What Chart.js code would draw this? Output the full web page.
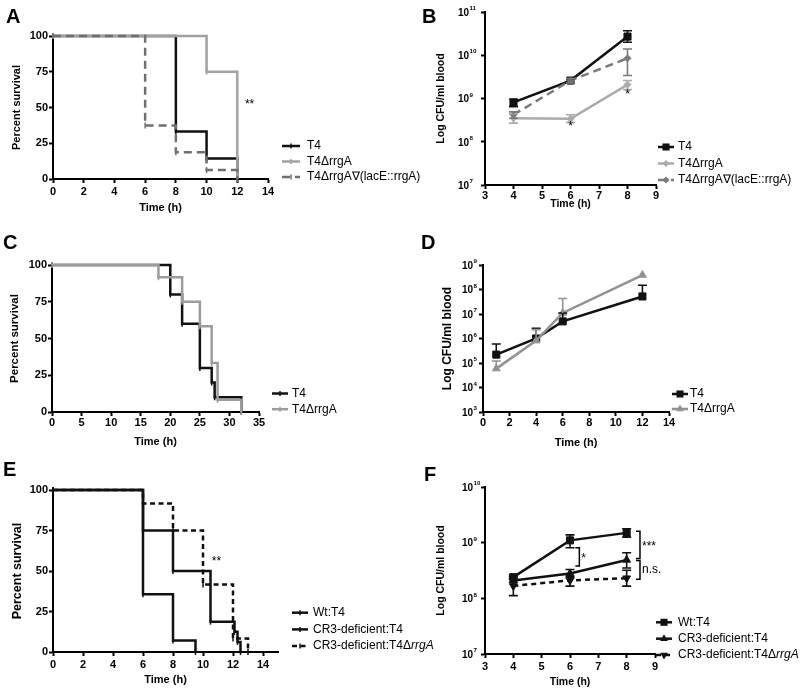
<!DOCTYPE html>
<html>
<head>
<meta charset="utf-8">
<script src="https://cdn.jsdelivr.net/npm/chart.js@4/dist/chart.umd.min.js"></script>
<style>
  body { margin: 0; background: #fff; width: 800px; height: 692px; position: relative; overflow: hidden; }
  canvas { position: absolute; }
  .tag { position: absolute; font: bold 20px "Liberation Sans", Arial, sans-serif; line-height: 20px; color: #000; }
</style>
</head>
<body>
<canvas id="pA" width="430" height="230" style="left:0;top:0"></canvas>
<canvas id="pB" width="400" height="230" style="left:400px;top:0"></canvas>
<canvas id="pC" width="400" height="230" style="left:0;top:230px"></canvas>
<canvas id="pD" width="400" height="230" style="left:400px;top:230px"></canvas>
<canvas id="pE" width="460" height="232" style="left:0;top:460px"></canvas>
<canvas id="pF" width="400" height="232" style="left:400px;top:460px"></canvas>
<div class="tag" style="left:6px;top:6px">A</div>
<div class="tag" style="left:422px;top:6px">B</div>
<div class="tag" style="left:3px;top:232px">C</div>
<div class="tag" style="left:421px;top:232px">D</div>
<div class="tag" style="left:3px;top:459px">E</div>
<div class="tag" style="left:424px;top:464px">F</div>
<script>
const FONT = '"Liberation Sans", Arial, sans-serif';

// A — survival (h), Kaplan-Meier steps
const A_T4_T = [0, 8, 10, 12];
const A_T4_S = [100, 33.3, 14.3, 0];
const A_RRGA_T = [0, 10, 12];
const A_RRGA_S = [100, 75, 0];
const A_COMP_T = [0, 6, 8, 10, 12];
const A_COMP_S = [100, 37.5, 18.75, 6.25, 0];
const A_LABELS = ['T4', 'T4ΔrrgA', 'T4ΔrrgA∇(lacE::rrgA)'];

// B — CFU/ml blood
const B_TIME = [4, 6, 8];
const B_T4 = [8.1e8, 2.6e9, 2.7e10];
const B_T4_LO = [6.5e8, 2.3e9, 2.0e10];
const B_T4_HI = [9.6e8, 2.9e9, 3.7e10];
const B_RRGA = [3.5e8, 3.4e8, 2.1e9];
const B_RRGA_LO = [2.7e8, 2.8e8, 1.6e9];
const B_RRGA_HI = [4.4e8, 4.2e8, 2.6e9];
const B_COMP = [4.2e8, 2.6e9, 8.5e9];
const B_COMP_LO = [3.5e8, 2.3e9, 3.4e9];
const B_COMP_HI = [4.9e8, 2.9e9, 1.4e10];
const B_TICKS = [1e7, 1e8, 1e9, 1e10, 1e11];

// C — survival
const C_T4_T = [0, 20, 22, 25, 27, 27.5, 32];
const C_T4_S = [100, 80, 60, 30, 20, 10, 0];
const C_RRGA_T = [0, 18, 22, 25, 27, 28, 32];
const C_RRGA_S = [100, 91.7, 75, 58.3, 33.3, 8.3, 0];
const C_LABELS = ['T4', 'T4ΔrrgA'];

// D — CFU/ml blood (upper error only)
const D_TIME = [1, 4, 6, 12];
const D_T4 = [2.2e5, 1.0e6, 5.0e6, 5.2e7];
const D_T4_HI = [6.0e5, 2.6e6, 1.1e7, 1.5e8];
const D_RRGA = [5.9e4, 8.2e5, 1.1e7, 3.9e8];
const D_RRGA_HI = [1.2e5, 2.3e6, 4.3e7, null];
const D_TICKS = [1e3, 1e4, 1e5, 1e6, 1e7, 1e8, 1e9];

// E — survival
const E_WT_T = [0, 6, 8, 9.5];
const E_WT_S = [100, 35.7, 7.1, 0];
const E_CR3_T = [0, 6, 8, 10.5, 12.1, 12.3, 12.5];
const E_CR3_S = [100, 75, 50, 18.75, 12.5, 6.25, 0];
const E_CR3R_T = [0, 6, 8, 10, 12, 13];
const E_CR3R_S = [100, 91.7, 75, 41.7, 8.3, 0];

// F — CFU/ml blood
const F_TIME = [4, 6, 8];
const F_WT = [2.4e8, 1.1e9, 1.5e9];
const F_WT_LO = [2.2e8, 8.1e8, 1.26e9];
const F_WT_HI = [2.65e8, 1.38e9, 1.78e9];
const F_CR3 = [2.1e8, 2.8e8, 4.9e8];
const F_CR3_LO = [1.95e8, 2.35e8, 3.5e8];
const F_CR3_HI = [2.3e8, 3.3e8, 6.6e8];
const F_CR3R = [1.67e8, 2.1e8, 2.3e8];
const F_CR3R_LO = [1.12e8, 1.66e8, 1.66e8];
const F_CR3R_HI = [2.45e8, 2.5e8, 3.2e8];
const F_TICKS = [1e7, 1e8, 1e9, 1e10];
const F_BRACKETS = [
  { x: 6.33, y1: 8.1e8, y2: 3.8e8, text: '*' },
  { x: 8.47, y1: 1.6e9, y2: 5.2e8, text: '***' },
  { x: 8.47, y1: 4.8e8, y2: 2.2e8, text: 'n.s.' },
];

const pts = (xs, ys) => xs.map((x, i) => ({ x, y: ys[i] }));

function km(label, xs, ys, color, dash, order, italic) {
  return {
    label, labelItalic: italic, data: pts(xs, ys), order,
    borderColor: color, borderWidth: 2.5, borderDash: dash || [],
    stepped: 'before', fill: false, clip: false,
    pointStyle: 'line', pointRotation: 90, pointRadius: 3,
    pointBorderWidth: 1.5, pointBorderColor: color, pointHoverRadius: 3,
  };
}

function cfu(label, xs, ys, lo, hi, color, style, r, dash, order, rot, italic) {
  return {
    label, labelItalic: italic, data: pts(xs, ys), lo, hi, order,
    borderColor: color, backgroundColor: color, borderWidth: 2.5, borderDash: dash || [],
    fill: false, clip: false,
    pointStyle: style, pointRadius: r, pointRotation: rot || 0, pointHoverRadius: r,
    pointBackgroundColor: color, pointBorderColor: color, pointBorderWidth: 1,
  };
}

function marker(ctx, style, x, y, r, color, rot) {
  ctx.fillStyle = color; ctx.strokeStyle = color;
  ctx.beginPath();
  if (style === 'rect') {
    const s = r * Math.SQRT1_2;
    ctx.rect(x - s, y - s, 2 * s, 2 * s); ctx.fill();
  } else if (style === 'rectRot') {
    ctx.moveTo(x, y - r); ctx.lineTo(x + r, y); ctx.lineTo(x, y + r); ctx.lineTo(x - r, y);
    ctx.closePath(); ctx.fill();
  } else if (style === 'triangle') {
    let a = (rot || 0) * Math.PI / 180;
    for (let k = 0; k < 3; k++) {
      const fx = x + Math.sin(a) * r, fy = y - Math.cos(a) * r;
      k ? ctx.lineTo(fx, fy) : ctx.moveTo(fx, fy);
      a += 2 * Math.PI / 3;
    }
    ctx.closePath(); ctx.fill();
  } else {
    ctx.lineWidth = 1.5;
    ctx.moveTo(x, y - r); ctx.lineTo(x, y + r); ctx.stroke();
  }
}

// legend drawn beside each plot
const keyBox = {
  id: 'keyBox',
  afterDraw(chart, args, o) {
    const ctx = chart.ctx;
    chart.data.datasets.forEach((ds, i) => {
      const y = o.y + i * o.dy;
      ctx.save();
      ctx.strokeStyle = ds.borderColor; ctx.lineWidth = ds.borderWidth;
      ctx.setLineDash(ds.borderDash || []);
      ctx.beginPath(); ctx.moveTo(o.x, y); ctx.lineTo(o.x + o.len, y); ctx.stroke();
      ctx.setLineDash([]);
      marker(ctx, ds.pointStyle, o.x + o.len / 2, y, ds.pointStyle === 'line' ? 2.5 : ds.pointRadius, ds.borderColor, ds.pointRotation);
      ctx.fillStyle = '#000'; ctx.textBaseline = 'middle'; ctx.textAlign = 'left';
      ctx.font = `12px ${FONT}`;
      ctx.fillText(ds.label, o.textX, y);
      if (ds.labelItalic) {
        const w = ctx.measureText(ds.label).width;
        ctx.font = `italic 12px ${FONT}`;
        ctx.fillText(ds.labelItalic, o.textX + w, y);
      }
      ctx.restore();
    });
  }
};

// error bars from dataset lo / hi
const errBars = {
  id: 'errBars',
  afterDatasetsDraw(chart) {
    const { ctx, scales: { x, y } } = chart;
    chart.data.datasets.forEach(ds => {
      if (!ds.hi) return;
      ctx.save();
      ctx.strokeStyle = ds.borderColor; ctx.lineWidth = 1.6;
      ds.data.forEach((p, i) => {
        const px = x.getPixelForValue(p.x), mid = y.getPixelForValue(p.y);
        ctx.beginPath();
        [ds.hi[i], ds.lo ? ds.lo[i] : null].forEach(v => {
          if (v == null) return;
          const py = y.getPixelForValue(v);
          ctx.moveTo(px, mid); ctx.lineTo(px, py);
          ctx.moveTo(px - 4.5, py); ctx.lineTo(px + 4.5, py);
        });
        ctx.stroke();
      });
      ctx.restore();
    });
  }
};

// significance marks in data coordinates
const notes = {
  id: 'notes',
  afterDraw(chart, args, o) {
    if (!o.items) return;
    const { ctx, scales: { x, y } } = chart;
    ctx.save();
    ctx.fillStyle = '#000'; ctx.textAlign = 'center'; ctx.textBaseline = 'middle';
    ctx.font = `12px ${FONT}`;
    o.items.forEach(n => ctx.fillText(n.text, x.getPixelForValue(n.x), y.getPixelForValue(n.y)));
    ctx.restore();
  }
};

const brackets = {
  id: 'brackets',
  afterDraw(chart, args, o) {
    if (!o.items) return;
    const { ctx, scales: { x, y } } = chart;
    ctx.save();
    ctx.strokeStyle = '#000'; ctx.lineWidth = 1.5; ctx.fillStyle = '#000';
    ctx.font = `12px ${FONT}`; ctx.textBaseline = 'middle'; ctx.textAlign = 'left';
    o.items.forEach(b => {
      const px = x.getPixelForValue(b.x), y1 = y.getPixelForValue(b.y1), y2 = y.getPixelForValue(b.y2);
      ctx.beginPath();
      ctx.moveTo(px - 4, y1); ctx.lineTo(px, y1); ctx.lineTo(px, y2); ctx.lineTo(px - 4, y2);
      ctx.stroke();
      ctx.fillText(b.text, px + 2, (y1 + y2) / 2 + (b.text.startsWith('*') ? 2 : 0));
    });
    ctx.restore();
  }
};

// 10^n tick labels for log axes
const powLabels = {
  id: 'powLabels',
  afterDraw(chart, args, o) {
    if (!o.x) return;
    const { ctx, scales: { y } } = chart;
    ctx.save(); ctx.fillStyle = '#000'; ctx.textBaseline = 'middle';
    y.ticks.forEach(t => {
      const py = y.getPixelForValue(t.value);
      const e = Math.round(Math.log10(t.value));
      ctx.font = `bold ${o.size}px ${FONT}`; ctx.textAlign = 'right';
      ctx.fillText('10', o.x, py + 1);
      ctx.font = `bold ${o.size * 0.62}px ${FONT}`; ctx.textAlign = 'left';
      ctx.fillText(String(e), o.x + 0.5, py - 3.5);
    });
    ctx.restore();
  }
};

function axisLook(extra) {
  return Object.assign({
    grid: { drawOnChartArea: false, drawTicks: true, tickLength: 4, tickWidth: 2, tickColor: '#000', color: '#000' },
    border: { display: true, color: '#000', width: 2 },
  }, extra);
}

function makePanel(id, p) {
  const cv = document.getElementById(id);
  const W = cv.width, H = cv.height;
  const tickFont = { family: FONT, size: 11, weight: 'bold' };
  const xScale = axisLook({
    type: 'linear', min: p.xMin, max: p.xMax,
    afterFit: s => { s.height = H - p.area.b; },
    afterBuildTicks: s => { s.ticks = p.xTicks.map(v => ({ value: v })); },
    ticks: { color: '#000', font: tickFont, padding: p.xTickPad, maxRotation: 0 },
    title: { display: true, text: 'Time (h)', color: '#000',
      font: { family: FONT, size: p.xTitleSize, weight: 'bold' }, padding: { top: 0, bottom: p.xTitlePad } },
  });
  const yScale = axisLook({
    type: p.yLog ? 'logarithmic' : 'linear', min: p.yMin, max: p.yMax,
    afterFit: s => { s.width = p.area.l; },
    afterBuildTicks: s => { s.ticks = p.yTicks.map(v => ({ value: v })); },
    ticks: { color: '#000', font: tickFont, padding: 1,
      callback: p.yLog ? () => '' : v => v },
    title: { display: true, text: p.yTitle, color: '#000',
      font: { family: FONT, size: p.yTitleSize, weight: 'bold' }, padding: { top: p.yTitlePad, bottom: 0 } },
  });
  return new Chart(cv, {
    type: 'line',
    data: { datasets: p.datasets },
    options: {
      responsive: false, animation: false, events: [],
      layout: { padding: { left: 0, top: p.area.t, right: W - p.area.r, bottom: 0 } },
      scales: { x: xScale, y: yScale },
      plugins: {
        legend: { display: false }, tooltip: { enabled: false },
        keyBox: p.key, notes: { items: p.notes }, brackets: { items: p.brackets },
        powLabels: p.pow || {},
      },
    },
    plugins: [errBars, keyBox, notes, brackets, powLabels],
  });
}

const PCT = [0, 25, 50, 75, 100];

makePanel('pA', {
  area: { l: 53, t: 36, r: 268, b: 179 },
  xMin: 0, xMax: 14, xTicks: [0, 2, 4, 6, 8, 10, 12, 14], yMin: 0, yMax: 100, yTicks: PCT,
  yTitle: 'Percent survival', yTitleSize: 11, yTitlePad: 10, xTitleSize: 11, xTitlePad: 15, xTickPad: 2,
  datasets: [
    km(A_LABELS[0], A_T4_T, A_T4_S, '#111', null, 2),
    km(A_LABELS[1], A_RRGA_T, A_RRGA_S, '#a2a2a2', null, 1),
    km(A_LABELS[2], A_COMP_T, A_COMP_S, '#707070', [8, 5], 0),
  ],
  key: { x: 282, len: 18, textX: 307, y: 146, dy: 15.5 },
  notes: [{ x: 12.8, y: 52, text: '**' }],
});

makePanel('pB', {
  area: { l: 85, t: 12, r: 256, b: 185 },
  xMin: 3, xMax: 9, xTicks: [3, 4, 5, 6, 7, 8, 9], yLog: true, yMin: 1e7, yMax: 1e11, yTicks: B_TICKS,
  yTitle: 'Log CFU/ml blood', yTitleSize: 10.5, yTitlePad: 35, xTitleSize: 10.5, xTitlePad: 20, xTickPad: 0,
  pow: { x: 69, size: 10 },
  datasets: [
    cfu('T4', B_TIME, B_T4, B_T4_LO, B_T4_HI, '#111', 'rect', 5, null, 2),
    cfu('T4ΔrrgA', B_TIME, B_RRGA, B_RRGA_LO, B_RRGA_HI, '#ababab', 'rectRot', 3.5, null, 1),
    cfu('T4ΔrrgA∇(lacE::rrgA)', B_TIME, B_COMP, B_COMP_LO, B_COMP_HI, '#7a7a7a', 'rectRot', 3.5, [8, 5], 0),
  ],
  key: { x: 258, len: 16, textX: 278, y: 147, dy: 16.5 },
  notes: [{ x: 6, y: 2.2e8, text: '*' }, { x: 8, y: 1.2e9, text: '*' }],
});

makePanel('pC', {
  area: { l: 52, t: 35, r: 259, b: 182 },
  xMin: 0, xMax: 35, xTicks: [0, 5, 10, 15, 20, 25, 30, 35], yMin: 0, yMax: 100, yTicks: PCT,
  yTitle: 'Percent survival', yTitleSize: 11.5, yTitlePad: 8, xTitleSize: 11, xTitlePad: 11, xTickPad: 0,
  datasets: [
    km(C_LABELS[0], C_T4_T, C_T4_S, '#111', null, 1),
    km(C_LABELS[1], C_RRGA_T, C_RRGA_S, '#9c9c9c', null, 0),
  ],
  key: { x: 272, len: 16, textX: 292, y: 163.5, dy: 15.7 },
});

makePanel('pD', {
  area: { l: 83, t: 35, r: 269, b: 182 },
  xMin: 0, xMax: 14, xTicks: [0, 2, 4, 6, 8, 10, 12, 14], yLog: true, yMin: 1e3, yMax: 1e9, yTicks: D_TICKS,
  yTitle: 'Log CFU/ml blood', yTitleSize: 12, yTitlePad: 40, xTitleSize: 11, xTitlePad: 10, xTickPad: 0,
  pow: { x: 73, size: 10 },
  datasets: [
    cfu('T4', D_TIME, D_T4, null, D_T4_HI, '#111', 'rect', 5, null, 1),
    cfu('T4ΔrrgA', D_TIME, D_RRGA, null, D_RRGA_HI, '#929292', 'triangle', 4.5, null, 0),
  ],
  key: { x: 272, len: 16, textX: 290, y: 164, dy: 15 },
});

makePanel('pE', {
  area: { l: 53, t: 30, r: 278, b: 192 },
  xMin: 0, xMax: 15, xTicks: [0, 2, 4, 6, 8, 10, 12, 14], yMin: 0, yMax: 100, yTicks: PCT,
  yTitle: 'Percent survival', yTitleSize: 12.5, yTitlePad: 10, xTitleSize: 11, xTitlePad: 5, xTickPad: 2,
  datasets: [
    km('Wt:T4', E_WT_T, E_WT_S, '#111', null, 2),
    km('CR3-deficient:T4', E_CR3_T, E_CR3_S, '#111', null, 1),
    km('CR3-deficient:T4Δ', E_CR3R_T, E_CR3R_S, '#111', [5, 3.5], 0, 'rrgA'),
  ],
  key: { x: 292, len: 16, textX: 313, y: 152.7, dy: 16.7 },
  notes: [{ x: 10.9, y: 56, text: '**' }],
});

makePanel('pF', {
  area: { l: 85, t: 27, r: 255, b: 194 },
  xMin: 3, xMax: 9, xTicks: [3, 4, 5, 6, 7, 8, 9], yLog: true, yMin: 1e7, yMax: 1e10, yTicks: F_TICKS,
  yTitle: 'Log CFU/ml blood', yTitleSize: 10.5, yTitlePad: 35, xTitleSize: 10.5, xTitlePad: 4, xTickPad: 2,
  pow: { x: 73, size: 10 },
  datasets: [
    cfu('Wt:T4', F_TIME, F_WT, F_WT_LO, F_WT_HI, '#111', 'rect', 5, null, 0),
    cfu('CR3-deficient:T4', F_TIME, F_CR3, F_CR3_LO, F_CR3_HI, '#111', 'triangle', 4.5, null, 1),
    cfu('CR3-deficient:T4Δ', F_TIME, F_CR3R, F_CR3R_LO, F_CR3R_HI, '#111', 'triangle', 4.5, [5, 4], 2, 180, 'rrgA'),
  ],
  key: { x: 256, len: 16, textX: 278, y: 162.3, dy: 16.4 },
  brackets: F_BRACKETS,
});
</script>
</body>
</html>
